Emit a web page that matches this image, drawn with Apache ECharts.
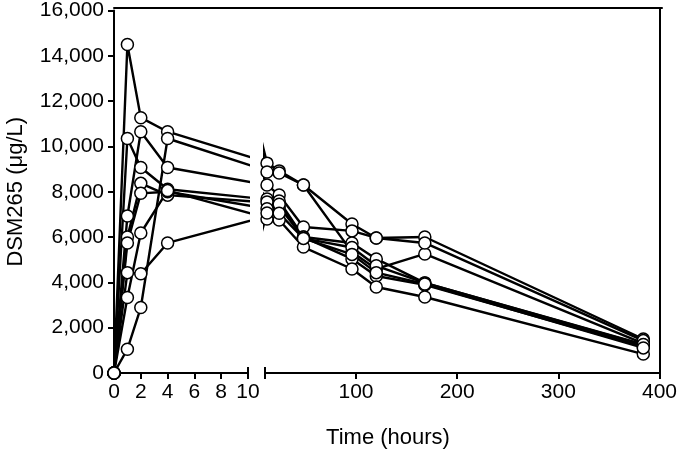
<!DOCTYPE html>
<html>
<head>
<meta charset="utf-8">
<script src="https://cdn.jsdelivr.net/npm/echarts@6/dist/echarts.min.js"></script>
<style>
  html, body { margin: 0; padding: 0; background: #fff; }
  #chart { width: 680px; height: 454px; }
</style>
</head>
<body>
<div id="chart"></div>
<script>
// sampling times (hours)
const times = [0, 1, 2, 4, 12, 24, 48, 96, 120, 168, 384]

// DSM265 concentration per subject (µg/L)
const s1 = [0, 14500, 11270, 10650, 9200, 8860, 8240, 6530, 5920, 5960, 1490]
const s2 = [0, 1050, 2890, 10350, 8810, 8770, 8240, 5300, 4560, 5220, 1300]
const s3 = [0, 6930, 10650, 9070, 8240, 7800, 6400, 6230, 5920, 5700, 1420]
const s4 = [0, 10350, 9070, 8110, 7630, 7540, 5960, 5700, 5000, 3950, 1230]
const s5 = [0, 6000, 8370, 7850, 7500, 7280, 5960, 5000, 4250, 3860, 1150]
const s6 = [0, 5740, 7930, 8000, 7200, 7400, 5900, 5500, 4700, 3950, 1250]
const s7 = [0, 3330, 6180, 8050, 6750, 6710, 5520, 4560, 3770, 3330, 830]
const s8 = [0, 4430, 4380, 5740, 7010, 7000, 5900, 5200, 4400, 3900, 1100]
const subjects = [s1, s2, s3, s4, s5, s6, s7, s8]

// tick labels
const leftTicks = [0, 2, 4, 6, 8, 10]
const rightTicks = [100, 200, 300, 400]

const font = "Liberation Sans, Arial, Helvetica, sans-serif"
const black = "#000"

const chart = echarts.init(document.getElementById("chart"))

const lineAxis = { show: true, onZero: false, lineStyle: { color: black, width: 2 } }
const outTick = { show: true, length: 6, lineStyle: { color: black, width: 2 } }
const inTick = { show: true, inside: true, length: 6, lineStyle: { color: black, width: 2 }, customValues: [10] }
const label = { color: black, fontSize: 21, fontFamily: font }

function subjectSeries(values, axisIdx) {
  return {
    type: "line",
    xAxisIndex: axisIdx,
    yAxisIndex: axisIdx === 0 ? 0 : 1,
    data: values.map((v, i) => [times[i], v]),
    clip: true,
    symbol: "circle",
    symbolSize: 12,
    showAllSymbol: true,
    lineStyle: { color: black, width: 2.4 },
    itemStyle: { color: "#fff", borderColor: black, borderWidth: 1.5 },
    emphasis: { disabled: true },
    z: 3
  }
}

const series = []
subjects.forEach(s => {
  series.push(subjectSeries(s, 0))
  series.push(subjectSeries(s, 2))
})

const option = {
  animation: false,
  backgroundColor: "#fff",
  grid: [
    { left: 114, width: 134, top: 8, bottom: 81 },
    { left: 265, right: 18, top: 8, bottom: 81 },
    { left: 114, right: 18, top: 8, bottom: 81 }
  ],
  xAxis: [
    {
      gridIndex: 0, type: "value", min: 0, max: 10, interval: 2,
      axisLine: lineAxis, axisTick: outTick,
      axisLabel: { ...label, margin: 9, customValues: leftTicks },
      splitLine: { show: false }
    },
    {
      gridIndex: 0, type: "value", min: 0, max: 10, position: "bottom",
      axisLine: { show: false }, axisTick: inTick,
      axisLabel: { show: false }, splitLine: { show: false }
    },
    {
      gridIndex: 1, type: "value", min: 10, max: 400,
      axisLine: lineAxis,
      axisTick: { ...outTick, customValues: [10].concat(rightTicks) },
      axisLabel: { ...label, margin: 9, customValues: rightTicks },
      splitLine: { show: false }
    },
    {
      gridIndex: 1, type: "value", min: 10, max: 400, position: "bottom",
      axisLine: { show: false }, axisTick: inTick,
      axisLabel: { show: false }, splitLine: { show: false }
    },
    {
      gridIndex: 2, type: "value", min: 0, max: 1, position: "top",
      axisLine: lineAxis, axisTick: { show: false }, axisLabel: { show: false },
      splitLine: { show: false }
    },
    {
      gridIndex: 2, type: "value", min: 0, max: 1, position: "bottom",
      axisLine: { show: false, onZero: false }, axisTick: { show: false }, axisLabel: { show: false },
      splitLine: { show: false },
      name: "Time (hours)", nameLocation: "middle", nameGap: 55,
      nameTextStyle: { color: black, fontSize: 22, fontFamily: font }
    }
  ],
  yAxis: [
    {
      gridIndex: 0, type: "value", min: 0, max: 16000, interval: 2000,
      axisLine: lineAxis, axisTick: outTick,
      axisLabel: {
        ...label, margin: 10,
        formatter: v => v.toLocaleString("en-US")
      },
      splitLine: { show: false },
      name: "DSM265 (μg/L)", nameLocation: "middle", nameGap: 87,
      nameTextStyle: { color: black, fontSize: 22, fontFamily: font }
    },
    {
      gridIndex: 1, type: "value", min: 0, max: 16000, position: "right",
      axisLine: lineAxis, axisTick: { show: false }, axisLabel: { show: false },
      splitLine: { show: false }
    },
    {
      gridIndex: 2, type: "value", min: 0, max: 1, show: false
    }
  ],
  series
}

chart.setOption(option)
</script>
</body>
</html>
